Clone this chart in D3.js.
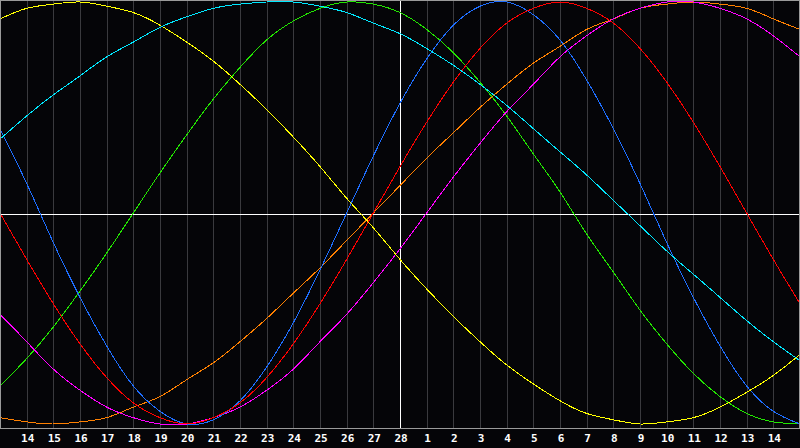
<!DOCTYPE html>
<html><head><meta charset="utf-8">
<script src="https://cdn.jsdelivr.net/npm/d3@7"></script>
<style>html,body{margin:0;padding:0;background:#050508;}svg{display:block;}</style>
</head><body>
<svg id="c" width="800" height="448"></svg>
<script>
// Day labels under the grid lines (index 1..29 of a 0..30 day window)
const dayLabels = ["14","15","16","17","18","19","20","21","22","23","24","25","26","27","28",
                   "1","2","3","4","5","6","7","8","9","10","11","12","13","14"];
const centerIndex = 15;

// Curve values (-1..1) at each day index 0..30
const blue    = [0.40,0.14,-0.14,-0.40,-0.63,-0.82,-0.94,-1.00,-0.98,-0.89,-0.73,-0.52,-0.27,0,0.27,0.52,0.73,0.89,0.98,1.00,0.94,0.82,0.63,0.40,0.14,-0.14,-0.40,-0.63,-0.82,-0.94,-1.00];
const red     = [0,-0.22,-0.43,-0.62,-0.78,-0.90,-0.97,-1.00,-0.97,-0.90,-0.78,-0.62,-0.43,-0.22,0,0.22,0.43,0.62,0.78,0.90,0.97,1.00,0.97,0.90,0.78,0.62,0.43,0.22,0,-0.22,-0.43];
const green   = [-0.82,-0.69,-0.54,-0.37,-0.19,0,0.19,0.37,0.54,0.69,0.82,0.91,0.97,1.00,0.99,0.95,0.87,0.76,0.62,0.46,0.28,0.10,-0.10,-0.28,-0.46,-0.62,-0.76,-0.87,-0.95,-0.99,-1.00];
const magenta = [-0.48,-0.61,-0.74,-0.84,-0.92,-0.97,-1.00,-1.00,-0.97,-0.92,-0.84,-0.74,-0.61,-0.48,-0.33,-0.17,0,0.17,0.33,0.48,0.61,0.74,0.84,0.92,0.97,1.00,1.00,0.97,0.92,0.84,0.74];
const yellow  = [0.92,0.97,0.99,1.00,0.98,0.95,0.89,0.81,0.72,0.61,0.49,0.36,0.22,0.07,-0.07,-0.22,-0.36,-0.49,-0.61,-0.72,-0.81,-0.89,-0.95,-0.98,-1.00,-0.99,-0.97,-0.92,-0.85,-0.77,-0.67];
const orange  = [-0.97,-0.99,-1.00,-0.99,-0.97,-0.92,-0.87,-0.79,-0.71,-0.61,-0.50,-0.38,-0.26,-0.13,0,0.13,0.26,0.38,0.50,0.61,0.71,0.79,0.87,0.92,0.97,0.99,1.00,0.99,0.97,0.92,0.87];
const cyan    = [0.35,0.46,0.56,0.65,0.74,0.81,0.88,0.93,0.97,0.99,1.00,1.00,0.98,0.95,0.90,0.85,0.78,0.70,0.61,0.51,0.40,0.29,0.18,0.06,-0.06,-0.18,-0.29,-0.40,-0.51,-0.61,-0.70];

const seriesNames  = ["green","orange","magenta","blue","red","yellow","cyan"];
const seriesValues = [green, orange, magenta, blue, red, yellow, cyan];
const seriesColors = ["#22e600","#ff8000","#ff00ff","#1e6eff","#ff0000","#ffff00","#00e8ff"];

const W = 800, H = 448, plotBottom = 428;
const svg = d3.select("#c");
const x = d3.scaleLinear().domain([0, 30]).range([0, W]);
const y = d3.scaleLinear().domain([-1, 1]).range([424, 2]);

svg.append("rect").attr("width", W).attr("height", H).attr("fill", "#050508");

// vertical grid lines
const ticks = d3.range(1, 30);
svg.append("g").selectAll("line").data(ticks).join("line")
  .attr("x1", d => Math.round(x(d)) + 0.5).attr("x2", d => Math.round(x(d)) + 0.5)
  .attr("y1", 0).attr("y2", plotBottom)
  .attr("stroke", "#3a3a3e").attr("stroke-width", 1).attr("shape-rendering", "crispEdges");

// center lines
svg.append("line").attr("x1", 0).attr("x2", W).attr("y1", Math.round(y(0)) + 1.5).attr("y2", Math.round(y(0)) + 1.5)
  .attr("stroke", "#ffffff").attr("shape-rendering", "crispEdges");
svg.append("line").attr("x1", x(centerIndex) + 0.5).attr("x2", x(centerIndex) + 0.5).attr("y1", 0).attr("y2", plotBottom)
  .attr("stroke", "#ffffff").attr("shape-rendering", "crispEdges");

// curves
const line = d3.line().x((d, i) => x(i)).y(d => y(d)).curve(d3.curveNatural);
svg.append("g").selectAll("path").data(seriesValues).join("path")
  .attr("class", (d, i) => "curve " + seriesNames[i])
  .attr("d", line).attr("fill", "none")
  .attr("stroke", (d, i) => seriesColors[i]).attr("stroke-width", 1)
  .attr("shape-rendering", "crispEdges");

// frame
svg.append("rect").attr("x", 0.5).attr("y", 0.5).attr("width", W - 1).attr("height", plotBottom)
  .attr("fill", "none").attr("stroke", "#9a9a9a").attr("shape-rendering", "crispEdges");

// axis labels
const xAxis = d3.axisBottom(x).tickValues(ticks).tickSize(0).tickPadding(0)
  .tickFormat(d => dayLabels[d - 1]);
const ax = svg.append("g").attr("transform", `translate(0.5,${plotBottom + 6})`).call(xAxis);
ax.select(".domain").remove();
ax.selectAll("text").attr("fill", "#ffffff")
  .attr("font-family", "'DejaVu Sans Mono', monospace").attr("font-weight", "bold").attr("font-size", 11);
</script>
</body></html>
